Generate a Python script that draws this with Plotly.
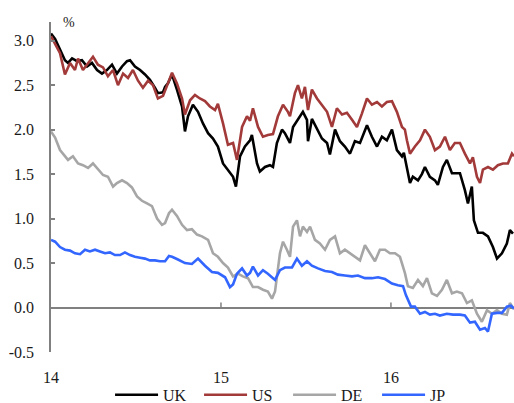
import plotly.graph_objects as go

# time in years since start of 2014
uk_t = [0.000, 0.024, 0.053, 0.082, 0.100, 0.124, 0.153, 0.182, 0.212, 0.241, 0.271, 0.300, 0.329, 0.359,
        0.388, 0.418, 0.447, 0.465, 0.494, 0.524, 0.553, 0.582, 0.612, 0.629, 0.659, 0.671, 0.688, 0.712,
        0.741, 0.771, 0.788, 0.806, 0.835, 0.865, 0.894, 0.924, 0.953, 0.982, 1.012, 1.041, 1.071, 1.088,
        1.112, 1.141, 1.171, 1.182, 1.212, 1.229, 1.259, 1.288, 1.306, 1.329, 1.359, 1.376, 1.406, 1.424,
        1.453, 1.482, 1.506, 1.512, 1.535, 1.565, 1.594, 1.624, 1.641, 1.671, 1.700, 1.729, 1.759, 1.788,
        1.818, 1.859, 1.888, 1.918, 1.947, 1.976, 2.006, 2.035, 2.065, 2.076, 2.094, 2.112, 2.129, 2.159,
        2.182, 2.200, 2.229, 2.259, 2.276, 2.306, 2.329, 2.359, 2.388, 2.406, 2.435, 2.453, 2.476, 2.488,
        2.512, 2.541, 2.571, 2.600, 2.624, 2.653, 2.682, 2.700, 2.718]
uk_v = [3.08, 3.02, 2.90, 2.78, 2.75, 2.80, 2.77, 2.78, 2.71, 2.75, 2.67, 2.63, 2.67, 2.73,
        2.63, 2.71, 2.77, 2.78, 2.71, 2.67, 2.62, 2.56, 2.47, 2.41, 2.42, 2.48, 2.52, 2.62,
        2.45, 2.26, 1.98, 2.15, 2.28, 2.20, 2.07, 1.96, 1.90, 1.81, 1.62, 1.55, 1.47, 1.36,
        1.70, 1.81, 1.88, 1.94, 1.62, 1.53, 1.58, 1.60, 1.58, 1.85, 2.00, 1.96, 1.85, 2.03,
        2.11, 2.20, 2.11, 1.87, 2.12, 2.00, 1.90, 1.85, 1.72, 2.00, 1.87, 1.81, 1.73, 1.87,
        1.85, 2.05, 1.92, 1.81, 1.92, 1.88, 2.00, 1.77, 1.70, 1.74, 1.58, 1.40, 1.47, 1.43,
        1.50, 1.58, 1.47, 1.43, 1.38, 1.58, 1.66, 1.51, 1.51, 1.51, 1.32, 1.17, 1.36, 0.98,
        0.84, 0.84, 0.80, 0.68, 0.55, 0.61, 0.72, 0.87, 0.83]

us_t = [0.000, 0.024, 0.053, 0.082, 0.112, 0.141, 0.159, 0.188, 0.218, 0.247, 0.276, 0.306, 0.335, 0.365,
        0.394, 0.424, 0.453, 0.482, 0.512, 0.541, 0.571, 0.600, 0.629, 0.659, 0.688, 0.712, 0.741, 0.771,
        0.788, 0.818, 0.847, 0.876, 0.906, 0.935, 0.965, 0.982, 1.012, 1.041, 1.071, 1.094, 1.124, 1.153,
        1.171, 1.188, 1.218, 1.247, 1.276, 1.306, 1.335, 1.365, 1.394, 1.406, 1.435, 1.453, 1.476, 1.494,
        1.512, 1.535, 1.565, 1.594, 1.624, 1.653, 1.682, 1.712, 1.741, 1.771, 1.800, 1.829, 1.859, 1.888,
        1.918, 1.947, 1.976, 2.006, 2.035, 2.065, 2.082, 2.094, 2.112, 2.141, 2.171, 2.200, 2.229, 2.259,
        2.288, 2.318, 2.347, 2.376, 2.406, 2.435, 2.465, 2.482, 2.506, 2.524, 2.541, 2.571, 2.600, 2.629,
        2.659, 2.688, 2.712, 2.724]
us_v = [3.05, 2.97, 2.86, 2.62, 2.75, 2.67, 2.80, 2.67, 2.75, 2.82, 2.73, 2.70, 2.60, 2.67,
        2.50, 2.63, 2.58, 2.67, 2.55, 2.47, 2.55, 2.50, 2.35, 2.38, 2.52, 2.64, 2.52, 2.35,
        2.17, 2.33, 2.39, 2.35, 2.32, 2.26, 2.22, 2.29, 2.07, 1.83, 1.85, 1.66, 2.03, 2.15,
        2.10, 2.24, 2.03, 1.92, 1.94, 1.95, 2.15, 2.28, 2.20, 2.15, 2.41, 2.50, 2.35, 2.48,
        2.22, 2.45, 2.35, 2.28, 2.20, 2.03, 2.24, 2.17, 2.19, 2.11, 2.03, 2.18, 2.35, 2.28,
        2.31, 2.26, 2.31, 2.32, 2.20, 2.03, 2.00, 1.88, 1.73, 1.81, 1.88, 2.00, 1.92, 1.77,
        1.81, 1.92, 1.77, 1.85, 1.85, 1.73, 1.62, 1.69, 1.47, 1.40, 1.55, 1.58, 1.55, 1.60,
        1.62, 1.62, 1.73, 1.70]

de_t = [0.000, 0.024, 0.053, 0.082, 0.100, 0.129, 0.159, 0.188, 0.218, 0.247, 0.276, 0.306, 0.335, 0.365,
        0.388, 0.418, 0.447, 0.476, 0.506, 0.535, 0.565, 0.594, 0.624, 0.653, 0.671, 0.694, 0.712, 0.741,
        0.771, 0.800, 0.829, 0.859, 0.888, 0.924, 0.953, 0.982, 1.012, 1.041, 1.071, 1.100, 1.129, 1.159,
        1.188, 1.218, 1.247, 1.276, 1.300, 1.318, 1.347, 1.365, 1.388, 1.406, 1.424, 1.447, 1.465, 1.482,
        1.506, 1.524, 1.553, 1.582, 1.612, 1.641, 1.671, 1.700, 1.729, 1.759, 1.788, 1.818, 1.847, 1.876,
        1.906, 1.935, 1.965, 1.994, 2.024, 2.053, 2.082, 2.100, 2.129, 2.159, 2.188, 2.212, 2.241, 2.271,
        2.300, 2.329, 2.359, 2.388, 2.418, 2.447, 2.476, 2.506, 2.535, 2.565, 2.594, 2.624, 2.653, 2.682,
        2.700, 2.724]
de_v = [1.98, 1.91, 1.77, 1.70, 1.66, 1.70, 1.62, 1.60, 1.57, 1.62, 1.55, 1.49, 1.47, 1.36,
        1.40, 1.43, 1.40, 1.35, 1.25, 1.20, 1.17, 1.14, 1.00, 0.93, 0.95, 1.06, 1.10, 1.03,
        0.93, 0.87, 0.88, 0.82, 0.80, 0.76, 0.61, 0.57, 0.50, 0.45, 0.35, 0.38, 0.35, 0.33,
        0.23, 0.23, 0.20, 0.18, 0.10, 0.18, 0.61, 0.74, 0.65, 0.57, 0.91, 0.98, 0.80, 0.91,
        0.85, 0.91, 0.76, 0.72, 0.65, 0.76, 0.80, 0.61, 0.65, 0.61, 0.57, 0.53, 0.70, 0.61,
        0.52, 0.65, 0.65, 0.61, 0.61, 0.57, 0.39, 0.24, 0.22, 0.31, 0.24, 0.33, 0.16, 0.13,
        0.20, 0.31, 0.16, 0.18, 0.16, 0.05, 0.08, -0.07, -0.16, -0.03, -0.07, -0.03, -0.07, -0.08,
        0.05, -0.02]

jp_t = [0.000, 0.024, 0.053, 0.082, 0.112, 0.141, 0.171, 0.200, 0.229, 0.259, 0.288, 0.318, 0.347, 0.376,
        0.406, 0.435, 0.465, 0.494, 0.524, 0.553, 0.582, 0.612, 0.641, 0.671, 0.694, 0.712, 0.747, 0.788,
        0.829, 0.865, 0.906, 0.947, 0.982, 1.024, 1.053, 1.071, 1.094, 1.124, 1.153, 1.171, 1.188, 1.218,
        1.247, 1.276, 1.318, 1.347, 1.376, 1.418, 1.447, 1.476, 1.506, 1.535, 1.571, 1.612, 1.653, 1.688,
        1.729, 1.771, 1.806, 1.847, 1.888, 1.924, 1.965, 2.006, 2.041, 2.071, 2.088, 2.100, 2.118, 2.141,
        2.171, 2.200, 2.229, 2.259, 2.288, 2.329, 2.365, 2.406, 2.435, 2.465, 2.494, 2.524, 2.553, 2.571,
        2.594, 2.624, 2.653, 2.682, 2.706, 2.724]
jp_v = [0.76, 0.74, 0.68, 0.65, 0.64, 0.61, 0.60, 0.65, 0.63, 0.65, 0.63, 0.61, 0.62, 0.59,
        0.59, 0.62, 0.59, 0.57, 0.56, 0.55, 0.53, 0.53, 0.52, 0.52, 0.58, 0.57, 0.54, 0.50,
        0.49, 0.55, 0.47, 0.40, 0.39, 0.34, 0.23, 0.26, 0.38, 0.44, 0.36, 0.39, 0.46, 0.36,
        0.42, 0.38, 0.31, 0.42, 0.45, 0.45, 0.55, 0.47, 0.52, 0.47, 0.44, 0.41, 0.40, 0.37,
        0.36, 0.35, 0.36, 0.33, 0.33, 0.34, 0.32, 0.27, 0.25, 0.24, 0.14, 0.08, 0.01, 0.01,
        -0.07, -0.05, -0.08, -0.07, -0.09, -0.07, -0.08, -0.08, -0.09, -0.17, -0.16, -0.25, -0.23, -0.27,
        -0.07, -0.06, -0.06, 0.01, 0.02, -0.01]

series_names = ["UK", "US", "DE", "JP"]
series_colors = ["#000000", "#a33a3a", "#a6a6a6", "#3366ff"]
year_ticks = [0, 1, 2]
year_labels = ["14", "15", "16"]
y_ticks = [-0.5, 0.0, 0.5, 1.0, 1.5, 2.0, 2.5, 3.0]
y_labels = ["-0.5", "0.0", "0.5", "1.0", "1.5", "2.0", "2.5", "3.0"]

FONT = "Liberation Serif"
AXIS = "#808080"

fig = go.Figure()
for name, color, t, v in zip(series_names, series_colors,
                             [uk_t, us_t, de_t, jp_t], [uk_v, us_v, de_v, jp_v]):
    fig.add_trace(go.Scatter(x=t, y=v, mode="lines", name=name,
                             line=dict(color=color, width=2.6)))

shapes = []
for tv in year_ticks[1:]:
    shapes.append(dict(type="line", xref="x", yref="y", x0=tv, x1=tv,
                       ysizemode="pixel", yanchor=0, y0=0, y1=5,
                       line=dict(color=AXIS, width=1.5)))

fig.update_layout(
    width=514, height=403,
    margin=dict(l=51, r=0, t=22, b=51, autoexpand=False),
    paper_bgcolor="white", plot_bgcolor="white",
    font=dict(family=FONT, size=16, color="#1a1a1a"),
    xaxis=dict(range=[0, 2.724], tickvals=year_ticks, ticktext=year_labels,
               showgrid=False, zeroline=False, showline=False, ticks="",
               ticklabelstandoff=14, tickfont=dict(size=16), automargin=False),
    yaxis=dict(range=[-0.5, 3.21], tickvals=y_ticks, ticktext=y_labels,
               showgrid=False, zeroline=True, zerolinecolor=AXIS, zerolinewidth=1.5,
               showline=True, linecolor=AXIS, linewidth=1.5,
               ticks="inside", ticklen=4, tickcolor=AXIS, tickwidth=1.5,
               ticklabelstandoff=12, tickfont=dict(size=16), automargin=False),
    legend=dict(orientation="h", x=0.512, xanchor="center", y=-0.13, yanchor="middle",
                font=dict(size=16), itemwidth=43, entrywidth=31, entrywidthmode="pixels",
                bgcolor="rgba(0,0,0,0)"),
    shapes=shapes,
    annotations=[dict(text="%", xref="paper", yref="paper", x=0.022, y=1.0,
                      xanchor="left", yanchor="middle", showarrow=False,
                      font=dict(size=14, family=FONT))],
)

fig.write_html("out.html", post_script="document.body.style.margin='0';",
               config={"displayModeBar": False})
